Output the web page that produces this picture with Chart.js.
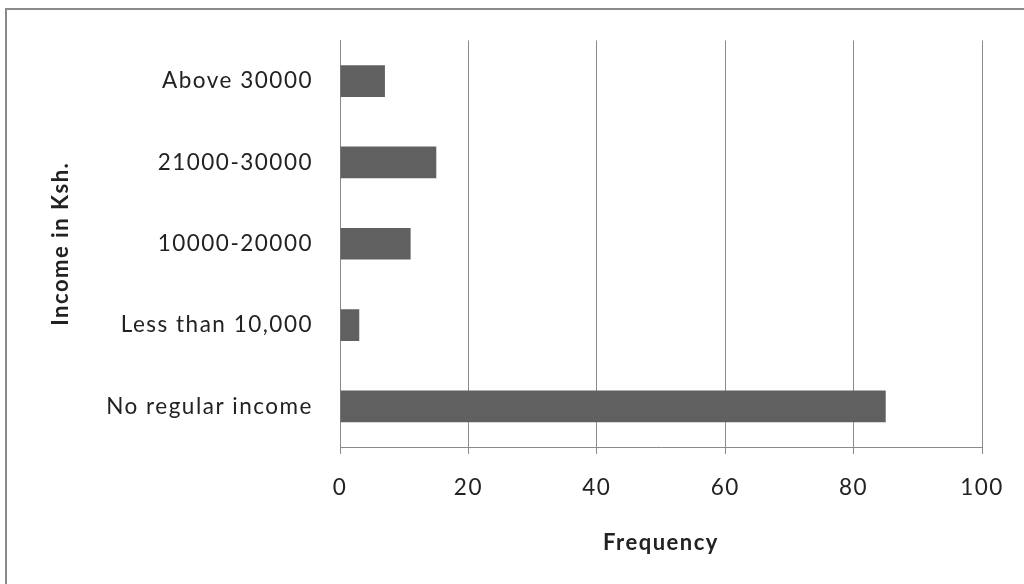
<!DOCTYPE html>
<html>
<head>
<meta charset="utf-8">
<script src="https://cdn.jsdelivr.net/npm/chart.js@4"></script>
<style>
  html, body { margin: 0; padding: 0; background: #fff; }
  #wrap { position: relative; width: 1024px; height: 584px; overflow: hidden; }
  #frame { position: absolute; left: 5px; top: 8px; width: 1040px; height: 600px;
           border-left: 2px solid #8a8a8a; border-top: 2px solid #8a8a8a; }
  canvas { position: absolute; left: 0; top: 0; }
</style>
</head>
<body>
<div id="wrap">
  <div id="frame"></div>
  <canvas id="chartBar" width="1024" height="584"></canvas>
</div>
<script>
// Категории и значения (сверху вниз)
var categories = ['Above 30000', '21000-30000', '10000-20000', 'Less than 10,000', 'No regular income'];
var frequency = [7, 15, 11, 3, 85];
var xTicks = [0, 20, 40, 60, 80, 100];

var fontName = 'Lato, "Open Sans", sans-serif';

// Немного разрядки букв, как в оригинале
var spacingPlugin = {
    id: 'spacing',
    beforeDraw: function (chart) { chart.ctx.letterSpacing = '1.5px'; }
};

var barChart = new Chart(document.getElementById('chartBar'), {
    type: 'bar',
    data: {
        labels: categories,
        datasets: [{
            label: 'Frequency',
            data: frequency,
            backgroundColor: '#606060',
            borderWidth: 0,
            barPercentage: 0.39,
            categoryPercentage: 1
        }]
    },
    plugins: [spacingPlugin],
    options: {
        indexAxis: 'y',
        responsive: false,
        animation: false,
        layout: { padding: { left: 0, top: 38, right: 42, bottom: 0 } },
        plugins: { legend: { display: false }, tooltip: { enabled: false } },
        scales: {
            x: {
                min: 0,
                max: 100,
                afterBuildTicks: function (scale) {
                    scale.ticks = xTicks.map(function (v) { return { value: v }; });
                },
                afterFit: function (scale) { scale.height = 137; },
                grid: { color: '#8a8a8a', lineWidth: 1, tickLength: 7, drawTicks: true },
                border: { color: '#8a8a8a', width: 1 },
                ticks: { color: '#222', font: { family: fontName, size: 22.5 }, padding: 20, maxRotation: 0 },
                title: {
                    display: true,
                    text: 'Frequency',
                    color: '#222',
                    font: { family: fontName, size: 22, weight: 'bold' },
                    padding: { top: 0, bottom: 28 }
                }
            },
            y: {
                afterFit: function (scale) { scale.width = 340; },
                grid: { display: false, drawTicks: false },
                border: { color: '#8a8a8a', width: 1 },
                ticks: { color: '#222', font: { family: fontName, size: 22.5 }, padding: 27 },
                title: {
                    display: true,
                    text: 'Income in Ksh.',
                    color: '#222',
                    font: { family: fontName, size: 22, weight: 'bold' },
                    padding: { top: 48, bottom: 0 }
                }
            }
        }
    }
});
</script>
</body>
</html>
